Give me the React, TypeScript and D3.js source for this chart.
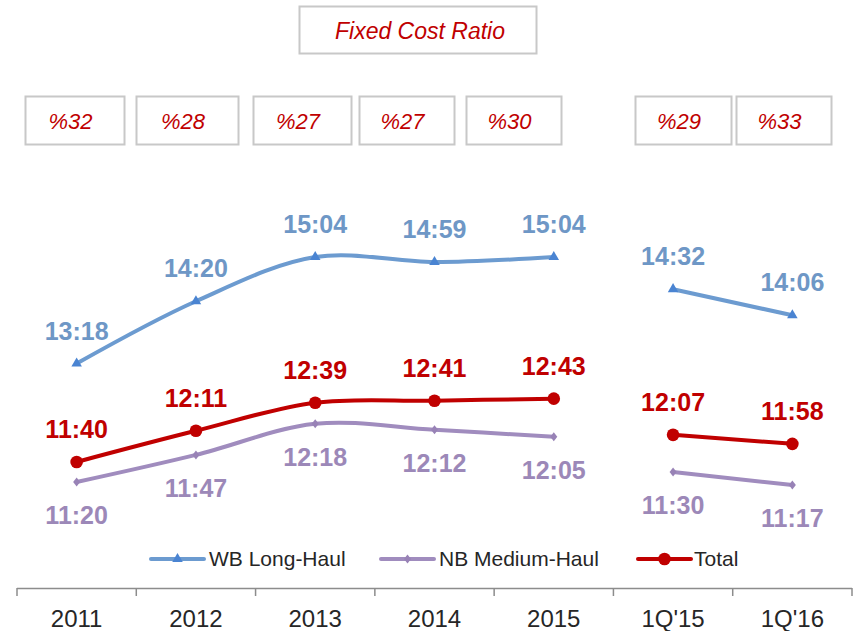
import React from "react";
import * as d3 from "d3";

// ---- data ----
const categories = ["2011", "2012", "2013", "2014", "2015", "1Q'15", "1Q'16"];
const wbLongHaul = ["13:18", "14:20", "15:04", "14:59", "15:04", "14:32", "14:06"];
const nbMediumHaul = ["11:20", "11:47", "12:18", "12:12", "12:05", "11:30", "11:17"];
const total = ["11:40", "12:11", "12:39", "12:41", "12:43", "12:07", "11:58"];
const fixedCostRatio = ["%32", "%28", "%27", "%27", "%30", "%29", "%33"];
const segments = [[0, 5], [5, 7]]; // yearly block, quarterly block
const legendLabels = ["WB Long-Haul", "NB Medium-Haul", "Total"];

// ---- layout / style ----
const W = 854, H = 631;
const FONT = "'Liberation Sans', Arial, Helvetica, sans-serif";
const WB_LINE = "#6C9BD0", WB_MARK = "#4A84D2", WB_TEXT = "#6E97C6";
const NB_LINE = "#A08CBE", NB_MARK = "#9882B6", NB_TEXT = "#9C88B8";
const RED = "#C00000";
const boxLayout = [
  [25, 124], [136, 238], [253, 351], [359, 454], [466, 561], [635, 731], [736, 831],
];

const toMin = (s: string) => {
  const [h, m] = s.split(":").map(Number);
  return h * 60 + m;
};

export default function App() {
  const x = d3.scaleBand<string>().domain(categories).range([17, 852]);
  const y = d3.scaleLinear().domain([600, 1000]).range([562.4, 160.6]);
  const cx = (c: string) => (x(c) as number) + x.bandwidth() / 2;

  const line = d3
    .line<[number, number]>()
    .x((d) => d[0])
    .y((d) => d[1])
    .curve(d3.curveCatmullRom.alpha(0.5));

  const series = [
    { vals: wbLongHaul, color: WB_LINE, mark: WB_MARK, text: WB_TEXT, kind: "tri", above: true },
    { vals: nbMediumHaul, color: NB_LINE, mark: NB_MARK, text: NB_TEXT, kind: "dia", above: false },
    { vals: total, color: RED, mark: RED, text: RED, kind: "circ", above: true },
  ];

  const marker = (kind: string, px: number, py: number, color: string, key: string) => {
    if (kind === "tri") {
      const p = d3.symbol().type(d3.symbolTriangle).size(48)();
      return <path key={key} d={p || ""} transform={`translate(${px},${py})`} fill={color} />;
    }
    if (kind === "dia") {
      return (
        <path key={key} d={`M0,-4.5L3.5,0L0,4.5L-3.5,0Z`} transform={`translate(${px},${py})`} fill={color} />
      );
    }
    return <circle key={key} cx={px} cy={py} r={6.3} fill={color} />;
  };

  const ticks = [...categories.map((c) => x(c) as number), x.range()[1]];

  const legendItems = [
    { x1: 151, x2: 204, tx: 209, s: series[0] },
    { x1: 381, x2: 434, tx: 439, s: series[1] },
    { x1: 638, x2: 691, tx: 694, s: series[2] },
  ];

  return (
    <svg
      width={W}
      height={H}
      style={{ position: "absolute", left: 0, top: 0, background: "#fff" }}
      fontFamily={FONT}
    >
      <rect width={W} height={H} fill="#fff" />
      {/* title box */}
      <rect x={299.5} y={6.5} width={237} height={47} fill="#fff" stroke="#C8C8C8" strokeWidth={2} />
      <text x={420} y={39} textAnchor="middle" fontSize={23} fontStyle="italic" fill={RED}>
        Fixed Cost Ratio
      </text>
      {/* ratio boxes */}
      {fixedCostRatio.map((r, i) => {
        const [a, b] = boxLayout[i];
        return (
          <g key={"box" + i}>
            <rect x={a + 0.5} y={96.5} width={b - a} height={48} fill="#fff" stroke="#C8C8C8" strokeWidth={2} />
            <text x={(a + b) / 2 - 4} y={129} textAnchor="middle" fontSize={22} fontStyle="italic" fill={RED}>
              {r}
            </text>
          </g>
        );
      })}

      {/* lines */}
      {series.map((s, si) =>
        segments.map(([a, b], gi) => {
          const pts: [number, number][] = s.vals
            .slice(a, b)
            .map((v, k) => [cx(categories[a + k]), y(toMin(v))]);
          return (
            <path
              key={`l${si}-${gi}`}
              d={line(pts) || ""}
              fill="none"
              stroke={s.color}
              strokeWidth={4}
              strokeLinecap="round"
              strokeLinejoin="round"
            />
          );
        })
      )}
      {/* markers */}
      {series.map((s, si) =>
        s.vals.map((v, i) => marker(s.kind, cx(categories[i]), y(toMin(v)), s.mark, `m${si}-${i}`))
      )}
      {/* labels */}
      {series.map((s, si) =>
        s.vals.map((v, i) => (
          <text
            key={`t${si}-${i}`}
            x={cx(categories[i])}
            y={y(toMin(v)) + (s.above ? -24 : 42)}
            textAnchor="middle"
            fontSize={25}
            fontWeight="bold"
            fill={s.text}
          >
            {v}
          </text>
        ))
      )}

      {/* legend */}
      {legendItems.map((l, i) => (
        <g key={"lg" + i}>
          <line x1={l.x1} x2={l.x2} y1={559} y2={559} stroke={l.s.color} strokeWidth={4} strokeLinecap="round" />
          {marker(l.s.kind, (l.x1 + l.x2) / 2, 559, l.s.mark, "lm" + i)}
          <text x={l.tx} y={566} fontSize={21} fill="#262626">
            {legendLabels[i]}
          </text>
        </g>
      ))}

      {/* x axis */}
      <line x1={17} x2={852} y1={588.5} y2={588.5} stroke="#8C8C8C" strokeWidth={1.5} />
      {ticks.map((t, i) => (
        <line key={"tk" + i} x1={t} x2={t} y1={588} y2={596} stroke="#8C8C8C" strokeWidth={1.5} />
      ))}
      {categories.map((c) => (
        <text key={"xl" + c} x={cx(c)} y={627} textAnchor="middle" fontSize={24} fill="#262626">
          {c}
        </text>
      ))}
    </svg>
  );
}
